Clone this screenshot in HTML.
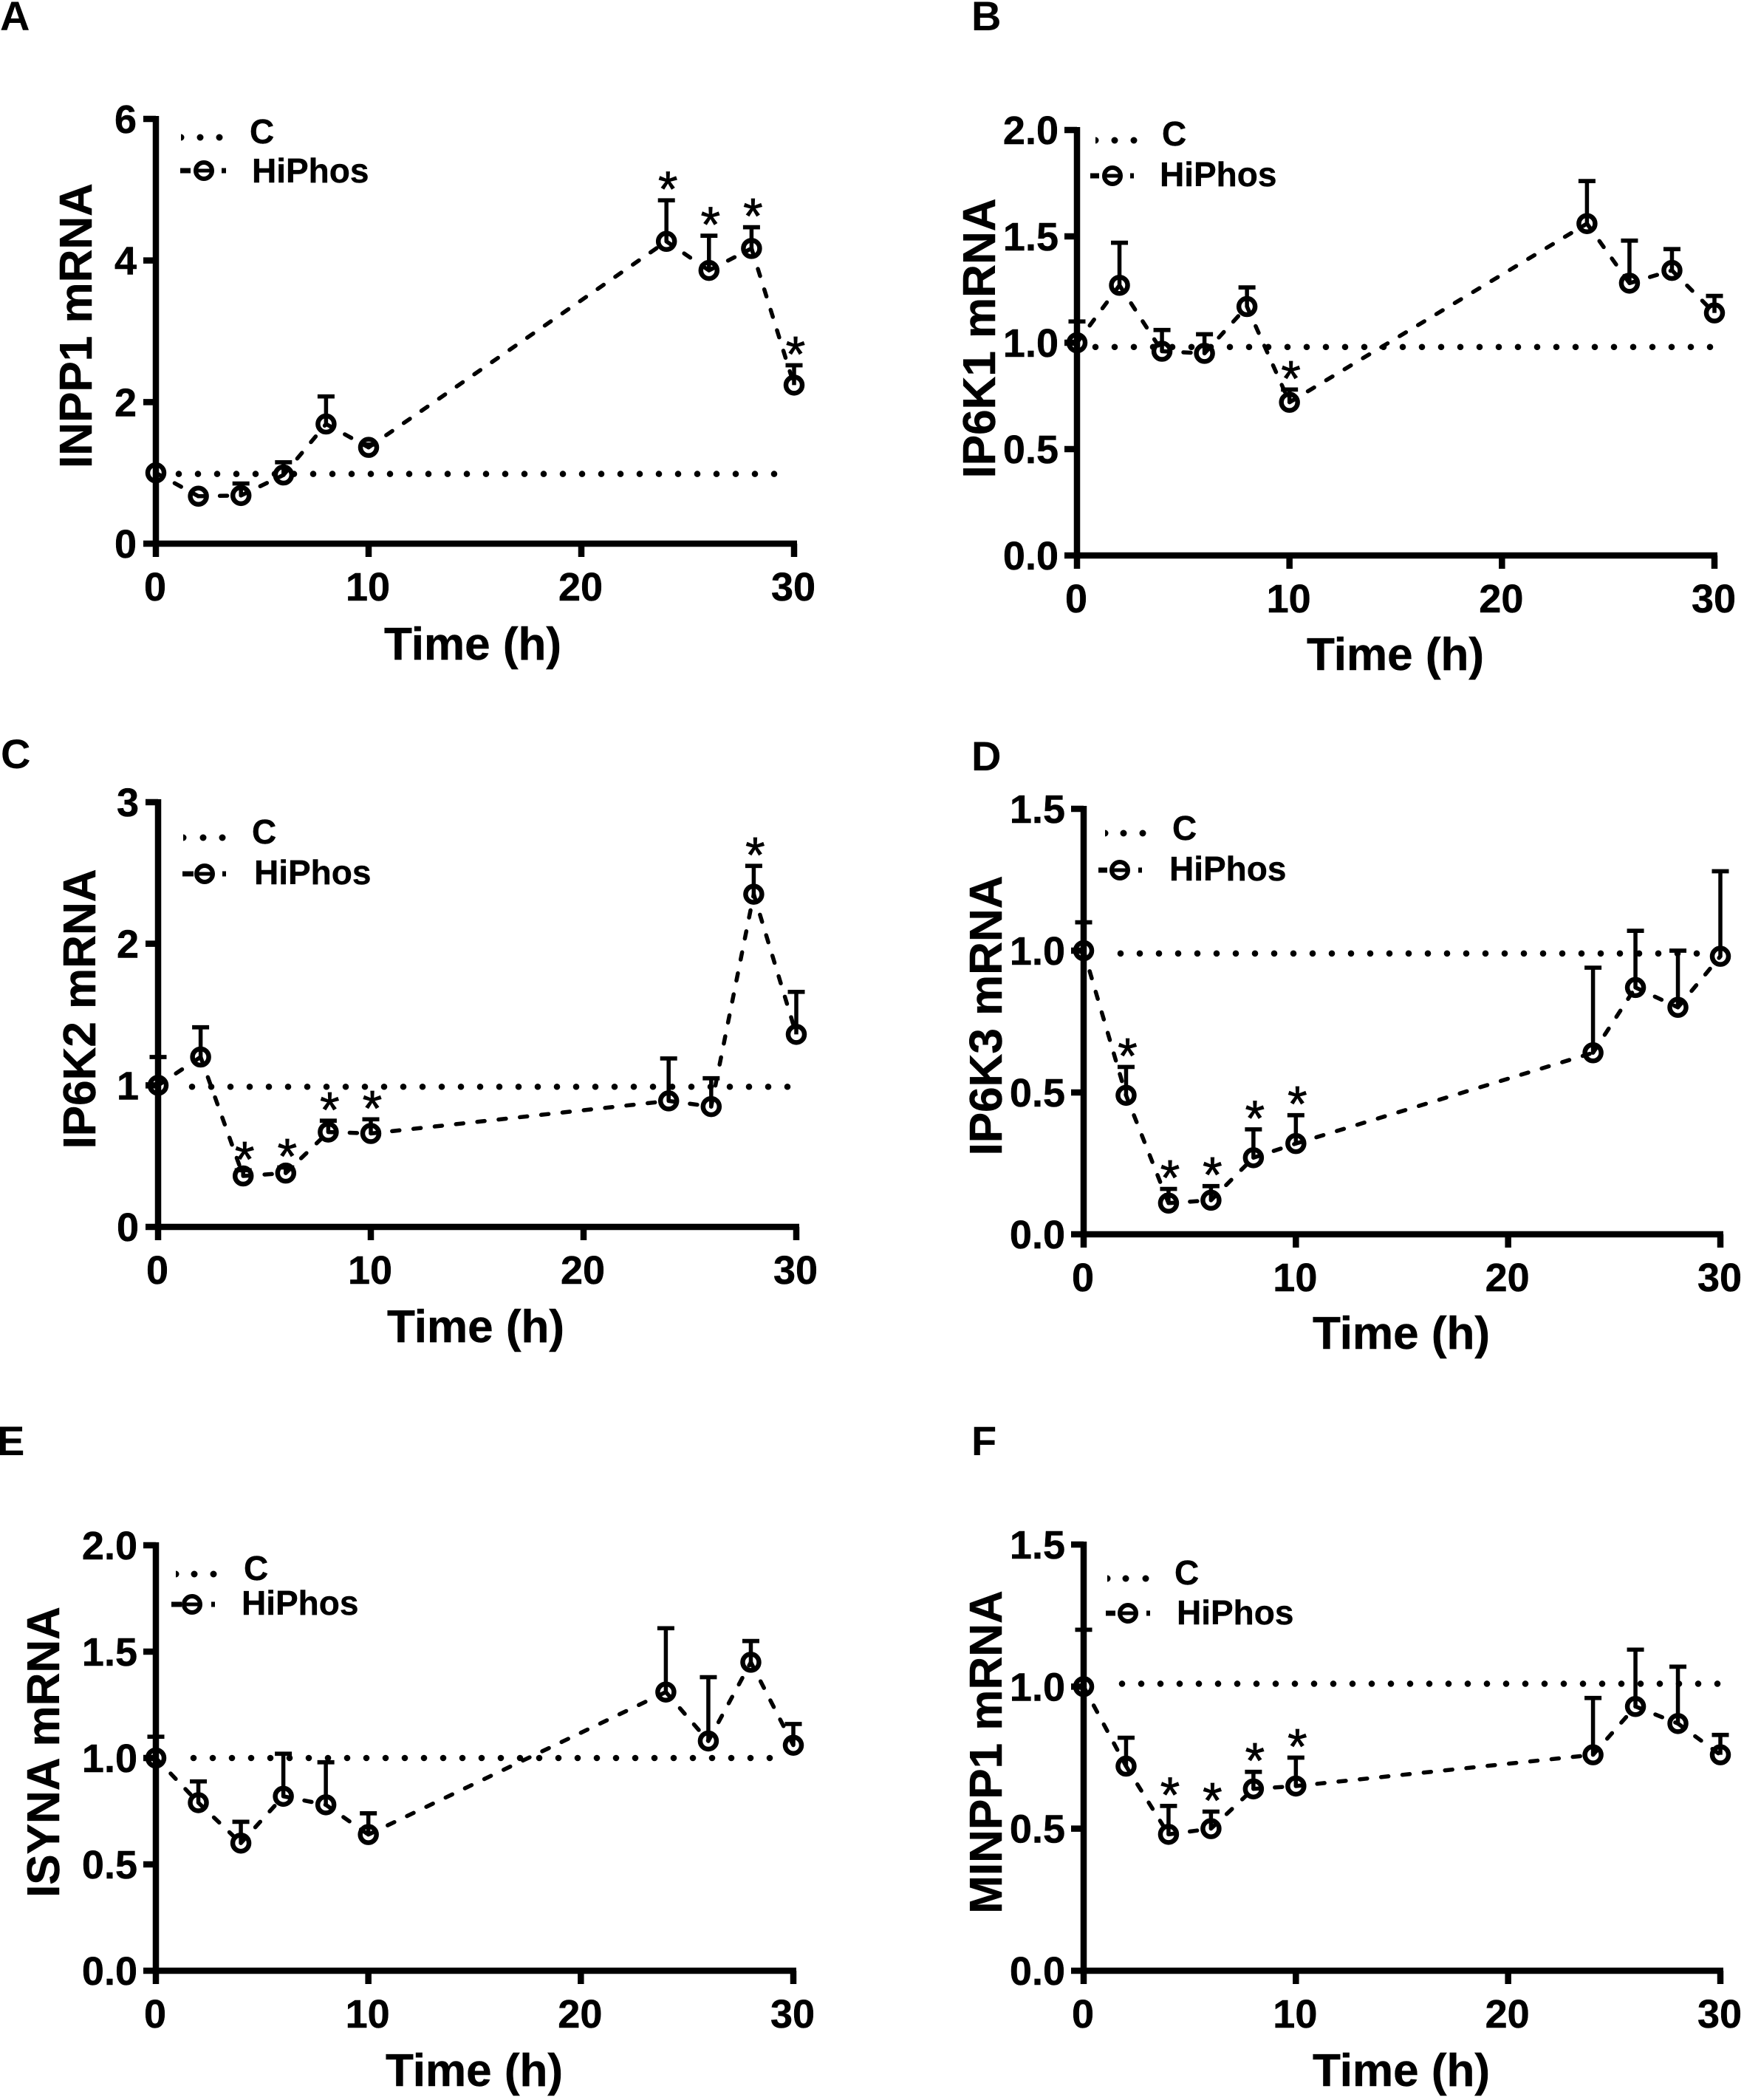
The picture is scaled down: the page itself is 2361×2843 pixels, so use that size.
<!DOCTYPE html>
<html lang="en">
<head>
<meta charset="utf-8">
<title>Inositol pathway mRNA time courses</title>
<style>
html,body{margin:0;padding:0;background:#fff;}
svg{display:block;}
text{font-family:"Liberation Sans",sans-serif;fill:#000;}
.letter{font-size:56px;font-weight:700;}
.title{font-size:62px;font-weight:700;text-anchor:middle;stroke:#000;stroke-width:.5px;}
.legend{font-size:46px;font-weight:700;stroke:#000;stroke-width:.4px;}
.tick{font-size:54px;font-weight:700;stroke:#000;stroke-width:.5px;}
.star{font-size:68px;font-weight:400;text-anchor:middle;stroke:#000;stroke-width:.8px;}
</style>
</head>
<body>
<svg id="figure" xmlns="http://www.w3.org/2000/svg" width="2361" height="2843" viewBox="0 0 2361 2843">
<rect width="2361" height="2843" fill="#fff"/>

<g id="panel-a">
<text class="letter" x="0" y="41">A</text>
<text class="title" transform="translate(124,441) rotate(-90)">INPP1 mRNA</text>
<text class="title" x="640" y="893">Time (h)</text>
<text class="legend" x="338" y="194">C</text>
<text class="legend" x="341" y="247">HiPhos</text>
</g>

<g id="panel-b">
<text class="letter" x="1315" y="41">B</text>
<text class="title" transform="translate(1347,458) rotate(-90)">IP6K1 mRNA</text>
<text class="title" x="1889" y="907">Time (h)</text>
<text class="legend" x="1573" y="197">C</text>
<text class="legend" x="1570" y="252">HiPhos</text>
</g>

<g id="panel-c">
<text class="letter" x="1" y="1040">C</text>
<text class="title" transform="translate(129,1366) rotate(-90)">IP6K2 mRNA</text>
<text class="title" x="644" y="1817">Time (h)</text>
<text class="legend" x="341" y="1142">C</text>
<text class="legend" x="344" y="1197">HiPhos</text>
</g>

<g id="panel-d">
<text class="letter" x="1315" y="1043">D</text>
<text class="title" transform="translate(1356,1375) rotate(-90)">IP6K3 mRNA</text>
<text class="title" x="1897" y="1826">Time (h)</text>
<text class="legend" x="1587" y="1137">C</text>
<text class="legend" x="1583" y="1192">HiPhos</text>
</g>

<g id="panel-e">
<text class="letter" x="-4" y="1970">E</text>
<text class="title" transform="translate(80,2372) rotate(-90)">ISYNA mRNA</text>
<text class="title" x="642" y="2824">Time (h)</text>
<text class="legend" x="330" y="2139">C</text>
<text class="legend" x="327" y="2186">HiPhos</text>
</g>

<g id="panel-f">
<text class="letter" x="1315" y="1970">F</text>
<text class="title" transform="translate(1356,2372) rotate(-90)">MINPP1 mRNA</text>
<text class="title" x="1897" y="2824">Time (h)</text>
<text class="legend" x="1590" y="2145">C</text>
<text class="legend" x="1593" y="2199">HiPhos</text>
</g>
</svg>

<script>
// Shared x data
const timeHours = [0, 2, 4, 6, 8, 10, 24, 26, 28, 30];
const xTickValues = [0, 10, 20, 30];

// Panel A: INPP1
const aYTicks = ['0', '2', '4', '6'];
const aMeans = [1, 0.67, 0.68, 0.97, 1.69, 1.36, 4.27, 3.86, 4.17, 2.24];
const aUppers = [1, 0.67, 0.85, 1.15, 2.08, 1.40, 4.85, 4.35, 4.47, 2.52];
const aStarred = [24, 26, 28, 30];
const aControl = 0.985;

// Panel B: IP6K1
const bYTicks = ['0.0', '0.5', '1.0', '1.5', '2.0'];
const bMeans = [1, 1.27, 0.96, 0.95, 1.17, 0.72, 1.56, 1.28, 1.34, 1.14];
const bUppers = [1.10, 1.47, 1.06, 1.04, 1.26, 0.78, 1.76, 1.48, 1.44, 1.22];
const bStarred = [10];
const bControl = 0.98;

// Panel C: IP6K2
const cYTicks = ['0', '1', '2', '3'];
const cMeans = [1, 1.20, 0.36, 0.38, 0.67, 0.66, 0.89, 0.85, 2.35, 1.36];
const cUppers = [1.20, 1.41, 0.40, 0.42, 0.75, 0.76, 1.19, 1.05, 2.55, 1.66];
const cStarred = [4, 6, 8, 10, 28];
const cControl = 0.99;

// Panel D: IP6K3
const dYTicks = ['0.0', '0.5', '1.0', '1.5'];
const dMeans = [1, 0.49, 0.11, 0.12, 0.27, 0.32, 0.64, 0.87, 0.80, 0.98];
const dUppers = [1.10, 0.59, 0.16, 0.17, 0.37, 0.42, 0.94, 1.07, 1.00, 1.28];
const dStarred = [2, 4, 6, 8, 10];
const dControl = 0.99;

// Panel E: ISYNA
const eYTicks = ['0.0', '0.5', '1.0', '1.5', '2.0'];
const eMeans = [1, 0.79, 0.60, 0.82, 0.78, 0.64, 1.31, 1.08, 1.45, 1.06];
const eUppers = [1.10, 0.89, 0.70, 1.02, 0.98, 0.74, 1.61, 1.38, 1.55, 1.16];
const eStarred = [];
const eControl = 1.0;

// Panel F: MINPP1
const fYTicks = ['0.0', '0.5', '1.0', '1.5'];
const fMeans = [1, 0.72, 0.48, 0.50, 0.64, 0.65, 0.76, 0.93, 0.87, 0.76];
const fUppers = [1.20, 0.82, 0.58, 0.56, 0.70, 0.75, 0.96, 1.13, 1.07, 0.83];
const fStarred = [4, 6, 8, 10];
const fControl = 1.01;

// Plot frames and legend placement (layout only)
const panels = [
  {id:'panel-a', left:211, right:1075, bottom:736, top:161, labelX:185, ctrlFrom:242, ctrlTo:1052,
   yTicks:aYTicks, means:aMeans, uppers:aUppers, starred:aStarred, control:aControl,
   dotY:186, dotX:[245,271,297], markX:276, markY:231, dashL:[244,258], dashR:[300,306]},
  {id:'panel-b', left:1458, right:2321, bottom:752, top:176, labelX:1433, ctrlFrom:1483, ctrlTo:2318,
   yTicks:bYTicks, means:bMeans, uppers:bUppers, starred:bStarred, control:bControl,
   dotY:190, dotX:[1483,1509,1535], markX:1506, markY:238, dashL:[1476,1488], dashR:[1530,1535]},
  {id:'panel-c', left:214, right:1078, bottom:1661, top:1086, labelX:188, ctrlFrom:260, ctrlTo:1068,
   yTicks:cYTicks, means:cMeans, uppers:cUppers, starred:cStarred, control:cControl,
   dotY:1134, dotX:[248,275,301], markX:277, markY:1183, dashL:[247,262], dashR:[301,306]},
  {id:'panel-d', left:1467, right:2329, bottom:1671, top:1095, labelX:1442, ctrlFrom:1517, ctrlTo:2300,
   yTicks:dYTicks, means:dMeans, uppers:dUppers, starred:dStarred, control:dControl,
   dotY:1128, dotX:[1496,1521,1547], markX:1516, markY:1178, dashL:[1487,1499], dashR:[1541,1546]},
  {id:'panel-e', left:211, right:1074, bottom:2668, top:2092, labelX:186, ctrlFrom:262, ctrlTo:1068,
   yTicks:eYTicks, means:eMeans, uppers:eUppers, starred:eStarred, control:eControl,
   dotY:2131, dotX:[238,263,289], markX:260, markY:2172, dashL:[232,246], dashR:[286,291]},
  {id:'panel-f', left:1467, right:2329, bottom:2668, top:2091, labelX:1442, ctrlFrom:1519, ctrlTo:2328,
   yTicks:fYTicks, means:fMeans, uppers:fUppers, starred:fStarred, control:fControl,
   dotY:2137, dotX:[1499,1524,1551], markX:1527, markY:2184, dashL:[1497,1510], dashR:[1552,1557]}
];

const SVG_NS = 'http://www.w3.org/2000/svg';

function make(parent, tag, attrs) {
  const el = document.createElementNS(SVG_NS, tag);
  for (const k in attrs) el.setAttribute(k, attrs[k]);
  parent.appendChild(el);
  return el;
}

function drawLegend(g, p) {
  p.dotX.forEach((dx, i) => {
    let dot;
    if (i === 0) {
      dot = make(g, 'path', {d:`M${dx} ${p.dotY - 4.5}A4.5 4.5 0 0 1 ${dx} ${p.dotY + 4.5}Z`, fill:'#000'});
    } else {
      dot = make(g, 'circle', {cx:dx, cy:p.dotY, r:4.5, fill:'#000'});
    }
    
    
  });
  const left = make(g, 'line', {x1:p.dashL[0], x2:p.dashL[1], y1:p.markY, y2:p.markY, stroke:'#000', 'stroke-width':7});
  
  
  const right = make(g, 'line', {x1:p.dashR[0], x2:p.dashR[1], y1:p.markY, y2:p.markY, stroke:'#000', 'stroke-width':7});
  
  
  const ring = make(g, 'circle', {cx:p.markX, cy:p.markY, r:11, fill:'none', stroke:'#000', 'stroke-width':6});
  
  
  const bar = make(g, 'line', {x1:p.markX-8, x2:p.markX+8, y1:p.markY, y2:p.markY, stroke:'#000', 'stroke-width':5});
  
  
}

function drawPanel(p) {
  const g = document.getElementById(p.id);
  const yMax = parseFloat(p.yTicks[p.yTicks.length - 1]);
  const xOf = t => p.left + (t / 30) * (p.right - p.left);
  const yOf = v => p.bottom - (v / yMax) * (p.bottom - p.top);

  // control series
  const controlLine = make(g, 'line', {
    x1:p.ctrlFrom, x2:p.ctrlTo, y1:yOf(p.control), y2:yOf(p.control),
    stroke:'#000', 'stroke-width':8.6, 'stroke-linecap':'round', 'stroke-dasharray':'0 26'
  });
  
  

  // error bars
  timeHours.forEach((t, i) => {
    if (p.uppers[i] <= p.means[i]) return;
    const stem = make(g, 'line', {x1:xOf(t), x2:xOf(t), y1:yOf(p.means[i]), y2:yOf(p.uppers[i]), stroke:'#000', 'stroke-width':5.5});
    
    
    const cap = make(g, 'line', {x1:xOf(t) - 11.5, x2:xOf(t) + 11.5, y1:yOf(p.uppers[i]), y2:yOf(p.uppers[i]), stroke:'#000', 'stroke-width':5.7});
    
    
  });

  // HiPhos dashed series: each segment restarts its dash at the point
  timeHours.slice(1).forEach((t, i) => {
    const seg = make(g, 'line', {
      x1:xOf(timeHours[i]), y1:yOf(p.means[i]), x2:xOf(t), y2:yOf(p.means[i + 1]),
      stroke:'#000', 'stroke-width':5.5, 'stroke-linecap':'round', 'stroke-dasharray':'10 19'
    });
    
    
  });

  // axes
  const yAxis = make(g, 'line', {x1:p.left, x2:p.left, y1:p.bottom + 4, y2:p.top - 4, stroke:'#000', 'stroke-width':8.5});
  
  
  const xAxis = make(g, 'line', {x1:p.left - 4, x2:p.right + 4, y1:p.bottom, y2:p.bottom, stroke:'#000', 'stroke-width':8.5});
  
  

  for (const lab of p.yTicks) {
    const v = parseFloat(lab);
    const tick = make(g, 'line', {x1:p.left - 17, x2:p.left, y1:yOf(v), y2:yOf(v), stroke:'#000', 'stroke-width':8.5});
    
    
    const txt = make(g, 'text', {x:p.labelX, y:yOf(v) + 19, 'text-anchor':'end', class:'tick'});
    
    
    txt.textContent = lab;
  }
  for (const v of xTickValues) {
    const tick = make(g, 'line', {x1:xOf(v), x2:xOf(v), y1:p.bottom, y2:p.bottom + 18, stroke:'#000', 'stroke-width':8.5});
    
    
    const txt = make(g, 'text', {x:xOf(v) - 1, y:p.bottom + 77, 'text-anchor':'middle', class:'tick'});
    
    
    txt.textContent = String(v);
  }

  // markers
  timeHours.forEach((t, i) => {
    const m = make(g, 'circle', {cx:xOf(t), cy:yOf(p.means[i]), r:11, fill:'none', stroke:'#000', 'stroke-width':6.5});
    
    
  });

  // significance stars
  for (const t of p.starred) {
    const i = timeHours.indexOf(t);
    const s = make(g, 'text', {x:xOf(t) + 2, y:yOf(p.uppers[i]) + 8, class:'star'});
    
    
    s.textContent = '*';
  }

  drawLegend(g, p);
}

panels.forEach(drawPanel);
</script>
</body>
</html>
